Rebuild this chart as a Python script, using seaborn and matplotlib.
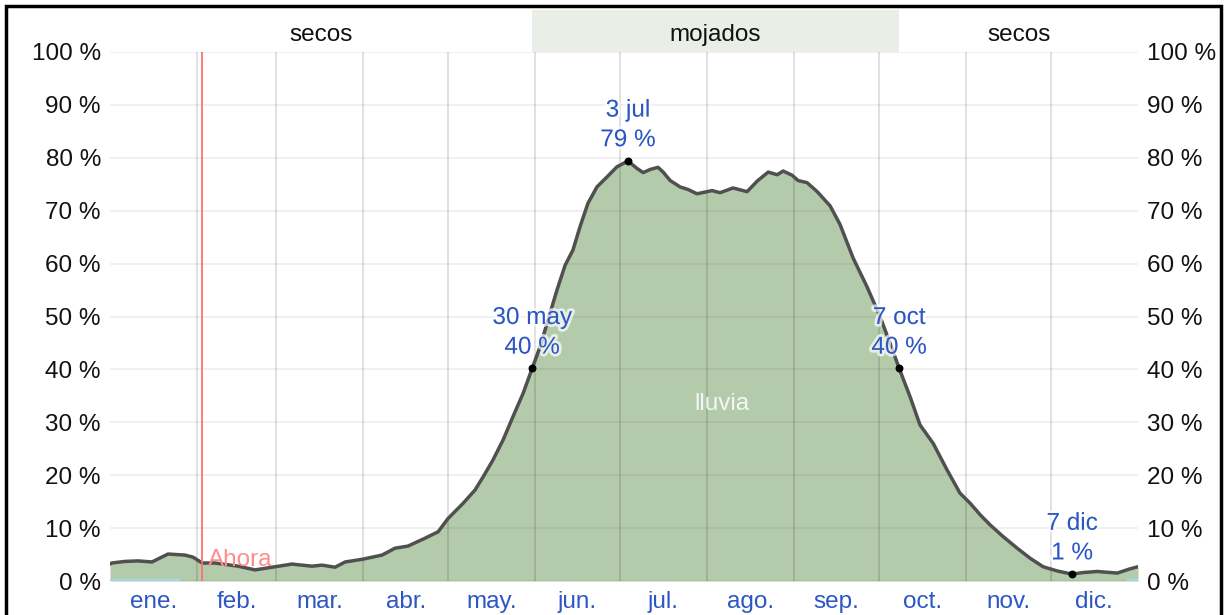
import matplotlib
matplotlib.use("Agg")
import matplotlib.pyplot as plt
import matplotlib.patheffects as pe
from matplotlib.patches import Rectangle
import seaborn as sns
import pandas as pd

# Daily chance of rain (%); x = day of year (0 = 1 ene.)
day = [0, 0.6, 5.3, 9.9, 14.9, 20.6, 26.6, 29.5, 32.7, 37.3, 45.5, 51.5, 57.5, 64.6, 71.7,
       75.3, 79.9, 83.5, 89.5, 96.6, 101.2, 105.8, 111.9, 116.5, 120.0, 125.4, 129.6, 132.5,
       136.0, 139.6, 143.1, 146.7, 149.9, 152.7, 155.5, 158.7, 161.6, 164.4, 166.9, 169.7,
       172.9, 176.5, 180.0, 183.9, 187.1, 189.3, 191.8, 194.6, 196.4, 198.9, 202.4, 205.3,
       208.4, 213.8, 216.6, 221.2, 226.2, 229.8, 233.7, 236.9, 239.0, 242.2, 244.3, 247.5,
       251.1, 255.7, 259.2, 263.9, 268.8, 273.4, 277.0, 280.2, 284.1, 287.6, 292.3, 297.2,
       301.8, 305.4, 309.0, 312.5, 317.1, 322.1, 326.7, 331.3, 336.3, 341.6, 345.5, 350.5,
       357.6, 362.2, 365]
rain_pct = [3.2, 3.4, 3.7, 3.8, 3.6, 5.1, 4.9, 4.5, 3.4, 3.4, 2.8, 2.1, 2.6, 3.2, 2.8,
            3.0, 2.6, 3.6, 4.1, 4.9, 6.2, 6.6, 8.1, 9.3, 11.8, 14.7, 17.2, 19.7,
            22.9, 26.7, 31.1, 35.5, 40.2, 44.3, 49.3, 55.0, 59.7, 62.6, 67.0, 71.4,
            74.5, 76.4, 78.3, 79.4, 78.0, 77.2, 77.8, 78.2, 77.3, 75.7, 74.5, 74.0,
            73.2, 73.8, 73.4, 74.3, 73.6, 75.6, 77.3, 76.8, 77.5, 76.7, 75.7, 75.3,
            73.6, 70.9, 67.4, 61.0, 55.6, 50.0, 44.9, 40.2, 34.8, 29.5, 26.0, 21.0,
            16.6, 14.7, 12.5, 10.6, 8.4, 6.2, 4.3, 2.7, 1.9, 1.3, 1.6, 1.8,
            1.5, 2.3, 2.7]

# snow (almost zero), two short stretches
snow_day = [0, 25, None, 361, 365]
snow_pct = [0.2, 0.2, None, 0.2, 0.2]

# highlighted points
annot_day = [149.9, 183.9, 280.2, 341.6]
annot_pct = [40.2, 79.4, 40.2, 1.3]
annot_text = ["30 may\n40 %", "3 jul\n79 %", "7 oct\n40 %", "7 dic\n1 %"]

now_day = 32.7

month_start = [0, 31, 59, 90, 120, 151, 181, 212, 243, 273, 304, 334, 365]
month_names = ["ene.", "feb.", "mar.", "abr.", "may.", "jun.", "jul.", "ago.", "sep.", "oct.", "nov.", "dic."]

season_edges = [0, 149.9, 280.2, 365]
season_names = ["secos", "mojados", "secos"]

sns.set_style("white")
plt.rcParams["font.family"] = ["Liberation Sans", "DejaVu Sans"]

blue = "#2b56c4"
fsize = 17.5

df = pd.DataFrame({"day": day, "pct": rain_pct})

fig = plt.figure(figsize=(12.28, 6.15), dpi=100)
L, R = 110 / 1228, 1138 / 1228
B, T = (615 - 581) / 615, (615 - 52) / 615
ax = fig.add_axes([L, B, R - L, T - B])

# Rain area + outline
ax.fill_between(df["day"], 0, df["pct"], color="#b4cbab", lw=0, zorder=2)
sns.lineplot(data=df, x="day", y="pct", ax=ax, color="#505050", lw=2.5, zorder=4,
             estimator=None, sort=False)
ax.plot(snow_day, snow_pct, color="#a8dcef", lw=1.5, zorder=3)

# Grid lines over the fill
for v in range(0, 101, 10):
    ax.axhline(v, color="black", alpha=0.07, lw=1.2, zorder=3)
for m in month_start[1:-1]:
    ax.axvline(m, color="black", alpha=0.14, lw=1.2, zorder=3)

# Now marker
ax.axvline(now_day, color="#ff7070", lw=1.3, zorder=5)
ax.text(now_day + 2.1, 4.0, "Ahora", color="#ff8c8c", fontsize=fsize, ha="left", va="center", zorder=6)

ax.text(217.3, 33.5, "lluvia", color="white", alpha=0.85, fontsize=fsize, ha="center", va="center", zorder=5)

# Highlight points
ax.scatter(annot_day, annot_pct, color="black", s=22, zorder=6)
for d, p, t in zip(annot_day, annot_pct, annot_text):
    ax.annotate(t, xy=(d, p), xytext=(0, 7), textcoords="offset points", ha="center", va="bottom",
                color=blue, fontsize=fsize, linespacing=1.45, zorder=7,
                path_effects=[pe.withStroke(linewidth=4, foreground="white", alpha=0.7)])

ax.set_xlim(0, 365)
ax.set_ylim(0, 100)
ax.set_yticks(range(0, 101, 10))
ax.set_yticklabels([f"{v} %" for v in range(0, 101, 10)])
ax.set_xticks([(a + b) / 2 for a, b in zip(month_start[:-1], month_start[1:])])
ax.set_xticklabels(month_names, color=blue)
ax.tick_params(axis="y", labelleft=True, labelright=True, left=False, right=False,
               labelsize=fsize, pad=3, colors="#111111")
ax.tick_params(axis="x", bottom=False, labelsize=fsize, pad=4)
ax.set_xlabel("")
ax.set_ylabel("")
for s in ax.spines.values():
    s.set_visible(False)

# Season band on top
band = fig.add_axes([L, T, R - L, 42 / 615])
band.set_xlim(0, 365)
band.set_ylim(0, 1)
band.axvspan(season_edges[1], season_edges[2], color="#e9efe6", lw=0)
for a, b, name in zip(season_edges[:-1], season_edges[1:], season_names):
    band.text((a + b) / 2, 0.40, name, ha="center", va="center", fontsize=fsize, color="#111111")
band.axis("off")

# Outer frame
fig.add_artist(Rectangle((6 / 1228, -0.1), (1221 - 6) / 1228, 1.1 - 6 / 615,
                         transform=fig.transFigure, fill=False, edgecolor="black", lw=2.5))

fig.savefig("out.png", dpi=100)
